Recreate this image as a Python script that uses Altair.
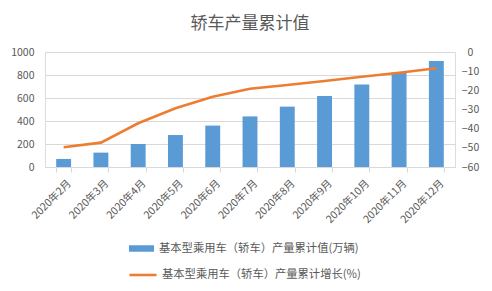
import altair as alt
import pandas as pd

months = ["2020年2月", "2020年3月", "2020年4月", "2020年5月", "2020年6月", "2020年7月",
          "2020年8月", "2020年9月", "2020年10月", "2020年11月", "2020年12月"]
production = [70, 125, 200, 278, 360, 440, 525, 617, 718, 820, 922]
growth = [-49.7, -47.3, -37.2, -29.4, -23.3, -19.2, -17.2, -15.1, -12.9, -10.8, -8.5]

bar_name = "基本型乘用车（轿车）产量累计值(万辆)"
line_name = "基本型乘用车（轿车）产量累计增长(%)"

df = pd.DataFrame({"month": months, "production": production, "growth": growth,
                   "s1": bar_name, "s2": line_name})

FONT = "Noto Sans CJK SC"
GREY = "#595959"

x = alt.X("month:N", sort=months, title=None,
          scale=alt.Scale(paddingInner=0.6, paddingOuter=0.3),
          axis=alt.Axis(labelAngle=-45, labelFontSize=10.5, labelColor=GREY, labelFont=FONT,
                        tickBand="extent", tickColor="#d9d9d9", tickSize=5,
                        domainColor="#d9d9d9", labelPadding=6, labelOffset=2))

bars = alt.Chart(df).mark_bar(color="#5B9BD5").encode(
    x=x,
    y=alt.Y("production:Q", title=None,
            scale=alt.Scale(domain=[0, 1000], nice=False),
            axis=alt.Axis(values=[0, 200, 400, 600, 800, 1000], format="d", labelFontSize=10.5,
                          labelColor=GREY, labelFont=FONT, ticks=False, domain=False,
                          gridColor="#d9d9d9", labelPadding=11)),
    color=alt.Color("s1:N", scale=alt.Scale(range=["#5B9BD5"]), title=None,
                    legend=alt.Legend(orient="none", legendX=83, legendY=183,
                                      symbolType="M-1,-0.26H1V0.26H-1Z", symbolSize=625,
                                      symbolOpacity=1, labelFontSize=11.3, labelColor=GREY,
                                      labelFont=FONT, labelOffset=4, labelLimit=400, padding=0)),
)

line = alt.Chart(df).mark_line(color="#ED7D31", strokeWidth=2.6).encode(
    x=x,
    y=alt.Y("growth:Q", title=None,
            scale=alt.Scale(domain=[-60, 0], nice=False),
            axis=alt.Axis(orient="right", values=[-60, -50, -40, -30, -20, -10, 0],
                          labelFontSize=10.5, labelColor=GREY, labelFont=FONT, ticks=False,
                          domain=False, grid=False, labelAlign="center", labelPadding=15)),
    color=alt.Color("s2:N", scale=alt.Scale(range=["#ED7D31"]), title=None,
                    legend=alt.Legend(orient="none", legendX=83, legendY=208,
                                      symbolType="stroke", symbolSize=729, symbolStrokeWidth=2.6,
                                      labelFontSize=11.3, labelColor=GREY, labelFont=FONT,
                                      labelOffset=4, labelLimit=400, padding=0)),
)

chart = alt.layer(bars, line).resolve_scale(y="independent", color="independent").properties(
    width=410, height=115,
    padding={"left": 45, "top": 52, "right": 37, "bottom": 124},
    autosize=alt.AutoSizeParams(type="none"),
    title=alt.TitleParams("轿车产量累计值", fontSize=17, font=FONT, color=GREY,
                          fontWeight="normal", anchor="middle", offset=14),
).configure_view(stroke=None).configure(background="white")

chart.save("out.html", embed_options={"renderer": "svg", "actions": False})
